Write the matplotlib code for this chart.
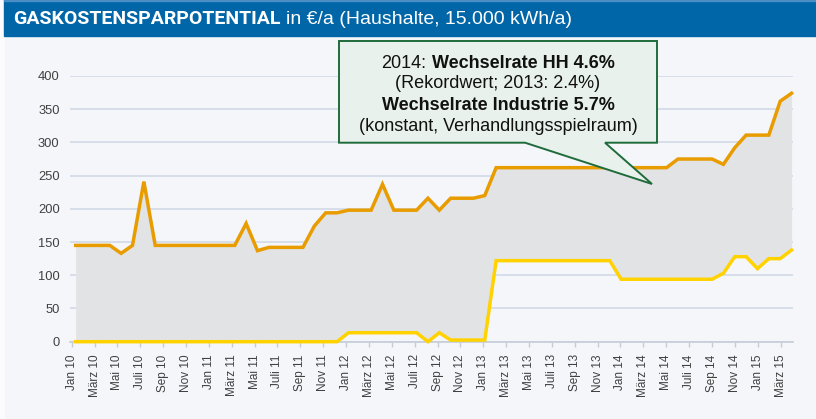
import numpy as np
import matplotlib.pyplot as plt
from matplotlib.patches import Polygon, Rectangle

# monthly values Jan 10 .. Apr 15 (EUR/a)
spar_max = [145, 145, 145, 145, 133, 145, 241,
            145, 145, 145, 145, 145, 145, 145, 145,
            178, 137, 142, 142, 142, 142, 174, 194, 194,
            198, 198, 198, 237, 198, 198, 198, 216, 198,
            216, 216, 216, 220,
            262, 262, 262, 262, 262, 262, 262, 262, 262, 262, 262, 262, 262, 262, 262, 262,
            275, 275, 275, 275, 267, 292, 311, 311, 311, 362, 374]
spar_min = [0] * 24 + [13.5] * 7 + [0, 13.5] + [2.5] * 4 + [122] * 11 + [94] * 9 + \
           [103, 128, 128, 110, 125, 125, 138]

tick_labels = []
for yr in range(10, 16):
    for m in ["Jan", "März", "Mai", "Juli", "Sep", "Nov"]:
        tick_labels.append(f"{m} {yr}")
tick_labels = tick_labels[:32]

y_ticks = [0, 50, 100, 150, 200, 250, 300, 350, 400]

title_bold = "GASKOSTENSPARPOTENTIAL"
title_rest = "in €/a (Haushalte, 15.000 kWh/a)"
callout_lines = [
    [("2014:", "normal"), ("Wechselrate HH 4.6%", "bold")],
    [("(Rekordwert; 2013: 2.4%)", "normal")],
    [("Wechselrate Industrie 5.7%", "bold")],
    [("(konstant, Verhandlungsspielraum)", "normal")],
]

plt.rcParams['font.family'] = 'Liberation Sans'

W, H = 816, 419
BG = '#f5f6fa'
fig = plt.figure(figsize=(W / 100, H / 100), dpi=100, facecolor=BG)


def fx(x):
    return x / W


def fy(y):
    return 1 - y / H


# frame pieces
fig.patches.append(Rectangle((0, 0), fx(4), 1, transform=fig.transFigure,
                             color='#fbfbfd', zorder=0))
fig.patches.append(Rectangle((fx(4), fy(36)), 1, 36 / H, transform=fig.transFigure,
                             color='#0066a8', zorder=1))
fig.patches.append(Rectangle((fx(4), fy(1.5)), 1, 1.5 / H, transform=fig.transFigure,
                             color='#4a8cc4', zorder=1))

x = np.arange(len(spar_max))
ax = fig.add_axes([fx(70), fy(341.7), (792.7 - 70) / W, (341.7 - 76) / H])
ax.set_facecolor(BG)
ax.fill_between(x, spar_min, spar_max, color='#e2e3e5', lw=0, zorder=2)
ax.plot(x, spar_min, color='#ffd200', lw=2.5, zorder=3, clip_on=False, solid_joinstyle='miter')
ax.plot(x, spar_max, color='#e89c00', lw=2.5, zorder=4, clip_on=False, solid_joinstyle='miter')

ax.set_xlim(-0.5, 63.1)
ax.set_ylim(0, 400)
ax.set_yticks(y_ticks)
ax.grid(axis='y', color='#d3dae6', lw=1.2)
ax.set_axisbelow(True)
tick_pos = np.linspace(-0.35, 62.03, len(tick_labels))
ax.set_xticks(tick_pos, tick_labels, rotation=90, fontsize=8.5, color='#404040')
ax.tick_params(axis='x', length=3.6, width=1, color='#c5ccd8', pad=5.5)
ax.tick_params(axis='y', length=0, pad=7.5, labelsize=9.3, labelcolor='#404040')
for s in ['left', 'right', 'top']:
    ax.spines[s].set_visible(False)
ax.spines['bottom'].set_color('#c5ccd8')
ax.spines['bottom'].set_linewidth(1.2)

# title
r = fig.canvas.get_renderer()
t1 = fig.text(fx(13), fy(19), title_bold, family='Roboto', weight='bold', size=14,
              color='white', va='center')
bb = t1.get_window_extent(r)
fig.text(bb.x1 / W + fx(6), fy(19), title_rest, size=14, color='white', va='center')

# callout box with pointer
pts = [(339, 41), (657, 41), (657, 142.7), (605, 142.7), (652, 184), (525, 142.7), (339, 142.7)]
fig.patches.append(Polygon([(fx(a), fy(b)) for a, b in pts], closed=True,
                           transform=fig.transFigure, facecolor='#e8f1ec',
                           edgecolor='#1f6b3b', lw=1.4, zorder=5))

baselines = [67.5, 88.5, 110, 131]
gap = 5
for parts, yb in zip(callout_lines, baselines):
    txts = [fig.text(0, fy(yb), s, weight=w, size=13, color='#111111', va='baseline', zorder=6)
            for s, w in parts]
    widths = [t.get_window_extent(r).width for t in txts]
    total = sum(widths) + gap * (len(txts) - 1)
    xpos = 498 - total / 2
    for t, wd in zip(txts, widths):
        t.set_x(fx(xpos))
        xpos += wd + gap

fig.savefig('out.png', dpi=100, facecolor=BG)
